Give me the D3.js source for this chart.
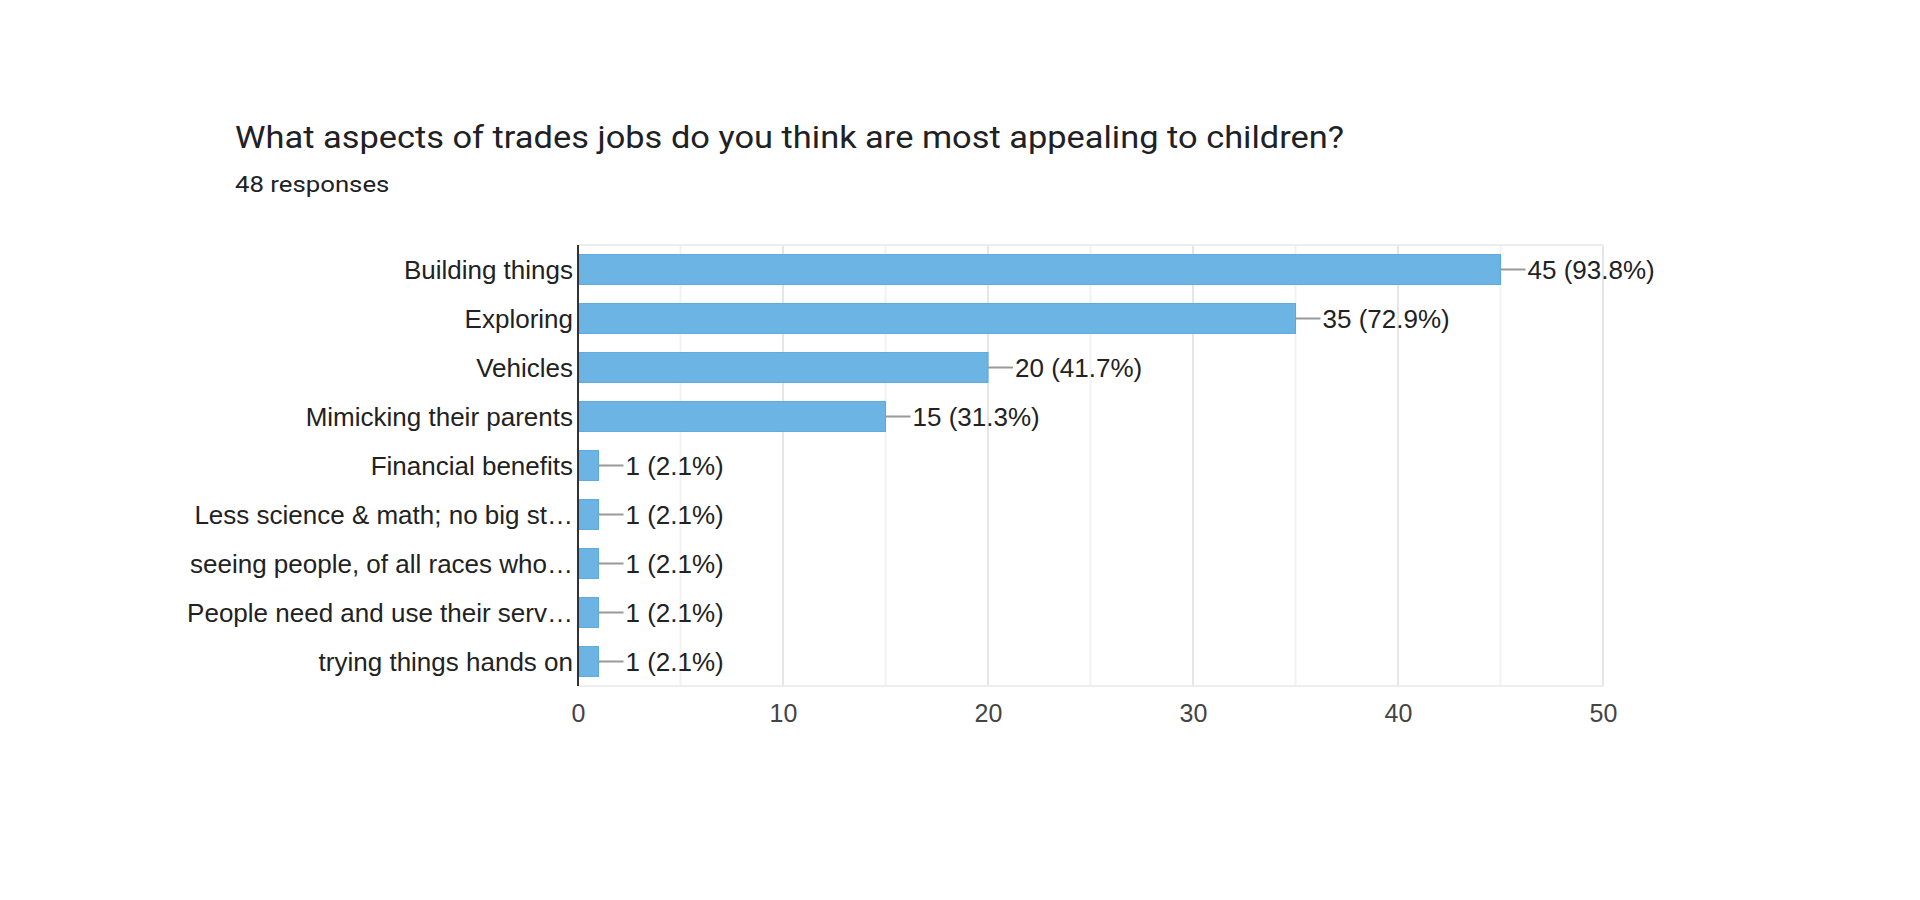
<!DOCTYPE html>
<html>
<head>
<meta charset="utf-8">
<script src="https://cdn.jsdelivr.net/npm/d3@7"></script>
<style>
  html, body { margin: 0; padding: 0; background: #ffffff; }
  svg { display: block; }
</style>
</head>
<body>
<svg id="chart" width="1920" height="900"></svg>
<script>
const title = "What aspects of trades jobs do you think are most appealing to children?";
const subtitle = "48 responses";
const categories = [
  "Building things",
  "Exploring",
  "Vehicles",
  "Mimicking their parents",
  "Financial benefits",
  "Less science & math; no big st\u2026",
  "seeing people, of all races who\u2026",
  "People need and use their serv\u2026",
  "trying things hands on"
];
const counts = [45, 35, 20, 15, 1, 1, 1, 1, 1];
const percents = ["93.8%", "72.9%", "41.7%", "31.3%", "2.1%", "2.1%", "2.1%", "2.1%", "2.1%"];
const xTicks = [0, 10, 20, 30, 40, 50];
const xGrid = [5, 10, 15, 20, 25, 30, 35, 40, 45, 50];

(function () {
const svg = d3.select("#chart");
const pLeft = 578, pRight = 1603, pTop = 245, pBottom = 686;

const x = d3.scaleLinear().domain([0, 50]).range([pLeft, pRight]);
const y = d3.scaleBand().domain(categories).range([pTop, pBottom]).paddingInner(0.39).paddingOuter(0.195);

const labelFont = "'Liberation Sans', Arial, sans-serif";
const titleFont = "Roboto, 'Noto Sans', sans-serif";

// Title (reference text is slightly wider than Roboto: stretch horizontally)
svg.append("text").attr("transform", "translate(235,148) scale(1.11,1)")
  .attr("font-family", titleFont).attr("font-size", 31).attr("fill", "#202124")
  .text(title);
svg.append("text").attr("transform", "translate(235,192) scale(1.12,1)")
  .attr("font-family", titleFont).attr("font-size", 23).attr("fill", "#202124")
  .text(subtitle);

// Gridlines
svg.append("g").selectAll("line").data(xGrid).join("line")
  .attr("x1", d => x(d)).attr("x2", d => x(d))
  .attr("y1", pTop).attr("y2", pBottom)
  .attr("stroke", d => d % 10 === 0 ? "#e6e6e6" : "#f2f2f2")
  .attr("stroke-width", 2);
svg.append("line").attr("x1", pLeft).attr("x2", pRight).attr("y1", pTop).attr("y2", pTop)
  .attr("stroke", "#ededed").attr("stroke-width", 2);
svg.append("line").attr("x1", pLeft).attr("x2", pRight).attr("y1", pBottom).attr("y2", pBottom)
  .attr("stroke", "#ededed").attr("stroke-width", 2);

// Bars
svg.append("g").selectAll("rect").data(categories).join("rect")
  .attr("x", x(0) + 1)
  .attr("y", d => y(d))
  .attr("width", (d, i) => x(counts[i]) - x(0) - 1)
  .attr("height", y.bandwidth())
  .attr("fill", "#6cb4e4")
  .attr("stroke", "#5aa9de").attr("stroke-width", 1);

// Leader lines
svg.append("g").selectAll("line").data(categories).join("line")
  .attr("x1", (d, i) => x(counts[i]))
  .attr("x2", (d, i) => x(counts[i]) + 25)
  .attr("y1", d => y(d) + y.bandwidth() / 2)
  .attr("y2", d => y(d) + y.bandwidth() / 2)
  .attr("stroke", "#999999").attr("stroke-width", 2);

// Value labels
svg.append("g").selectAll("text").data(categories).join("text")
  .attr("x", (d, i) => x(counts[i]) + 27)
  .attr("y", d => y(d) + y.bandwidth() / 2)
  .attr("dy", "0.36em")
  .attr("font-family", labelFont).attr("font-size", 26).attr("fill", "#222222")
  .text((d, i) => `${counts[i]} (${percents[i]})`);

// Category labels
svg.append("g").selectAll("text").data(categories).join("text")
  .attr("x", pLeft - 5)
  .attr("y", d => y(d) + y.bandwidth() / 2)
  .attr("dy", "0.36em")
  .attr("text-anchor", "end")
  .attr("font-family", labelFont).attr("font-size", 26).attr("fill", "#222222")
  .text(d => d);

// Vertical axis line
svg.append("line").attr("x1", pLeft).attr("x2", pLeft).attr("y1", pTop).attr("y2", pBottom)
  .attr("stroke", "#333333").attr("stroke-width", 2);

// X tick labels
const xAxis = d3.axisBottom(x).tickValues(xTicks).tickSize(0).tickPadding(0);
const gx = svg.append("g").attr("transform", `translate(0, ${pBottom + 18})`).call(xAxis);
gx.select(".domain").remove();
gx.selectAll("text")
  .attr("font-family", labelFont).attr("font-size", 25).attr("fill", "#444444")
  .attr("dy", "0.71em");
})();
</script>
</body>
</html>
